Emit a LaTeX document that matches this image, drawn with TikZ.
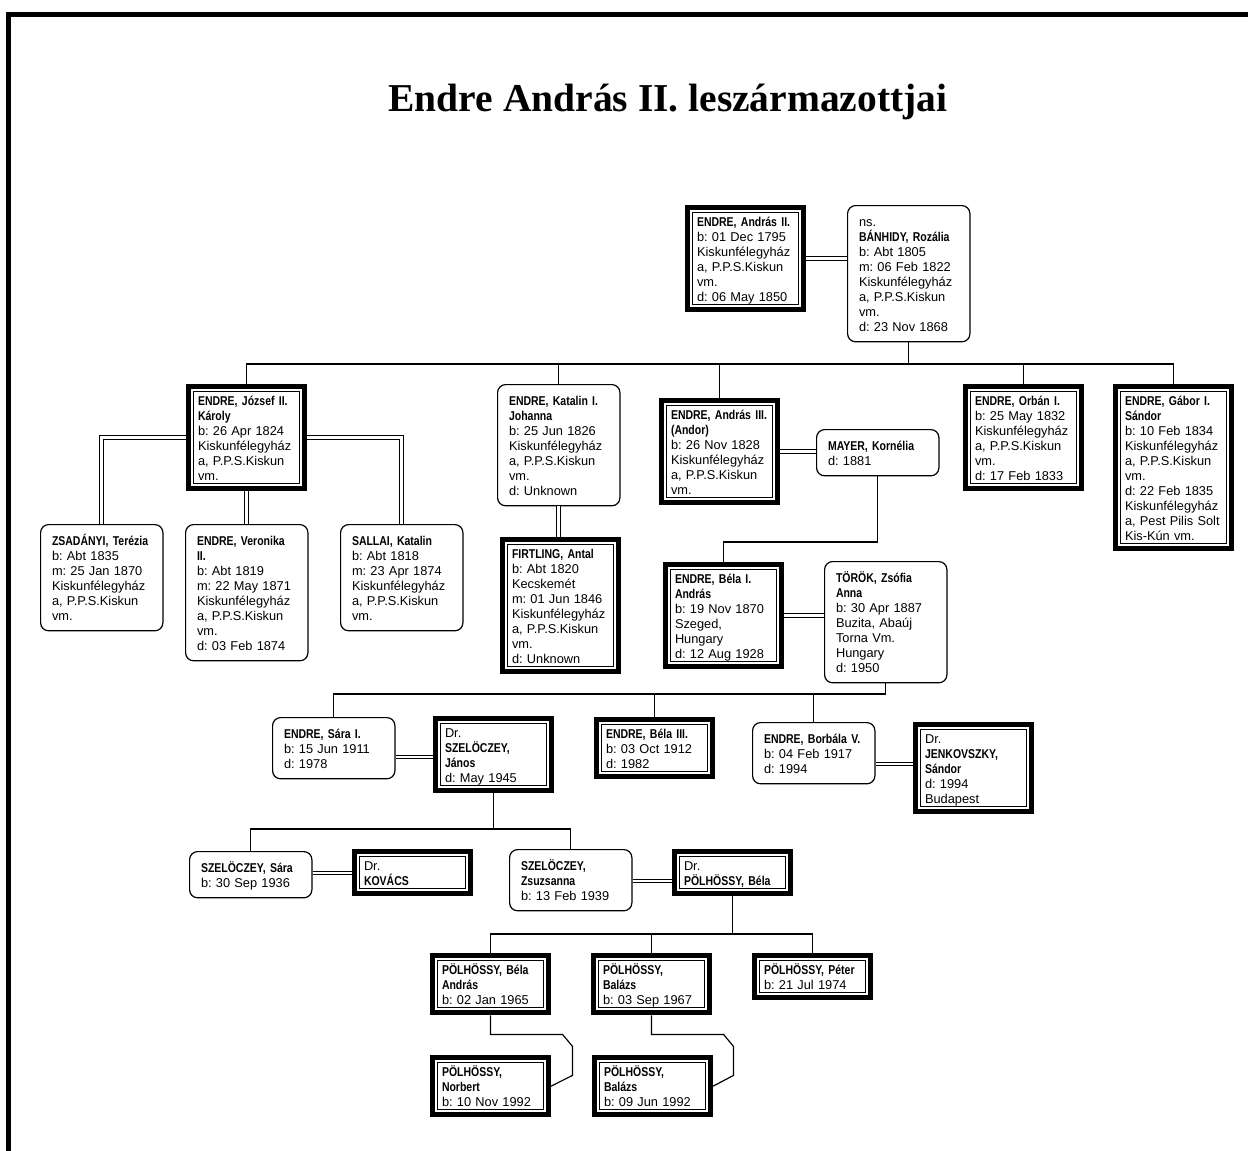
\documentclass[tikz,border=0pt]{standalone}
\usepackage{fontspec}
\setmainfont{Liberation Sans}
\newfontfamily\namefont[FakeStretch=0.82]{Liberation Sans}
\newfontfamily\titlefont{Liberation Serif}
\frenchspacing

\newcommand\nm[1]{{\namefont\bfseries #1}}

\tikzset{
  person/.style={anchor=north west, fill=white, align=left,
    font=\fontsize{12.8}{15}\selectfont,
    execute at begin node={\rule{0pt}{13.8pt}},
    execute at end node={\rule[-2.8pt]{0pt}{2.8pt}}},
  spouse/.style={person, draw, rounded corners=8pt, line width=1.2pt,
    outer sep=0.6pt, inner xsep=11.4pt, inner ysep=7.3pt, text width=99.5pt},
  blood/.style={person, draw, line width=5pt, outer sep=2.5pt,
    inner xsep=9.5pt, inner ysep=5.4pt, text width=97pt},
  inner/.style={draw, line width=1.2pt},
  line/.style={line width=1.2pt},
  marriage/.style={double, double distance=2.6pt, line width=1.1pt}
}

\begin{document}
\begin{tikzpicture}[x=1pt,y=-1pt]
\useasboundingbox (0,0) rectangle (1248,1151);
\draw[line width=5pt] (8.5,1151) -- (8.5,14.5) -- (1248,14.5);

\node[anchor=base] (title) at (668,111) {\titlefont\bfseries\fontsize{39.5}{44}\selectfont Endre András II. leszármazottjai};

% first couple
\node[blood] (a2) at (685,205) {\nm{ENDRE, András II.}\\b: 01 Dec 1795\\Kiskunfélegyház\\a, P.P.S.Kiskun\\vm.\\d: 06 May 1850};
\node[spouse] (banhidy) at (847,205) {ns.\\\nm{BÁNHIDY, Rozália}\\b: Abt 1805\\m: 06 Feb 1822\\Kiskunfélegyház\\a, P.P.S.Kiskun\\vm.\\d: 23 Nov 1868};

% their children
\node[blood] (jozsef) at (186,384) {\nm{ENDRE, József II.}\\\nm{Károly}\\b: 26 Apr 1824\\Kiskunfélegyház\\a, P.P.S.Kiskun\\vm.};
\node[spouse] (katalin) at (497,384) {\nm{ENDRE, Katalin I.}\\\nm{Johanna}\\b: 25 Jun 1826\\Kiskunfélegyház\\a, P.P.S.Kiskun\\vm.\\d: Unknown};
\node[blood] (andras3) at (659,398) {\nm{ENDRE, András III.}\\\nm{(Andor)}\\b: 26 Nov 1828\\Kiskunfélegyház\\a, P.P.S.Kiskun\\vm.};
\node[spouse] (mayer) at (816,429) {\nm{MAYER, Kornélia}\\d: 1881};
\node[blood] (orban) at (963,384) {\nm{ENDRE, Orbán I.}\\b: 25 May 1832\\Kiskunfélegyház\\a, P.P.S.Kiskun\\vm.\\d: 17 Feb 1833};
\node[blood] (gabor) at (1113,384) {\nm{ENDRE, Gábor I.}\\\nm{Sándor}\\b: 10 Feb 1834\\Kiskunfélegyház\\a, P.P.S.Kiskun\\vm.\\d: 22 Feb 1835\\Kiskunfélegyház\\a, Pest Pilis Solt\\Kis-Kún vm.};

\node[spouse] (zsadanyi) at (40,524) {\nm{ZSADÁNYI, Terézia}\\b: Abt 1835\\m: 25 Jan 1870\\Kiskunfélegyház\\a, P.P.S.Kiskun\\vm.};
\node[spouse] (veronika) at (185,524) {\nm{ENDRE, Veronika}\\\nm{II.}\\b: Abt 1819\\m: 22 May 1871\\Kiskunfélegyház\\a, P.P.S.Kiskun\\vm.\\d: 03 Feb 1874};
\node[spouse] (sallai) at (340,524) {\nm{SALLAI, Katalin}\\b: Abt 1818\\m: 23 Apr 1874\\Kiskunfélegyház\\a, P.P.S.Kiskun\\vm.};
\node[blood] (firtling) at (500,537) {\nm{FIRTLING, Antal}\\b: Abt 1820\\Kecskemét\\m: 01 Jun 1846\\Kiskunfélegyház\\a, P.P.S.Kiskun\\vm.\\d: Unknown};

\node[blood] (bela1) at (663,562) {\nm{ENDRE, Béla I.}\\\nm{András}\\b: 19 Nov 1870\\Szeged,\\Hungary\\d: 12 Aug 1928};
\node[spouse] (torok) at (824,561) {\nm{TÖRÖK, Zsófia}\\\nm{Anna}\\b: 30 Apr 1887\\Buzita, Abaúj\\Torna Vm.\\Hungary\\d: 1950};

\node[spouse] (sara1) at (272,717) {\nm{ENDRE, Sára I.}\\b: 15 Jun 1911\\d: 1978};
\node[blood] (szelJ) at (433,716) {Dr.\\\nm{SZELÖCZEY,}\\\nm{János}\\d: May 1945};
\node[blood] (bela3) at (594,717) {\nm{ENDRE, Béla III.}\\b: 03 Oct 1912\\d: 1982};
\node[spouse] (borbala) at (752,722) {\nm{ENDRE, Borbála V.}\\b: 04 Feb 1917\\d: 1994};
\node[blood] (jenk) at (913,722) {Dr.\\\nm{JENKOVSZKY,}\\\nm{Sándor}\\d: 1994\\Budapest};

\node[spouse] (szSara) at (189,851) {\nm{SZELÖCZEY, Sára}\\b: 30 Sep 1936};
\node[blood] (kovacs) at (352,849) {Dr.\\\nm{KOVÁCS}};
\node[spouse] (zsuzsa) at (509,849) {\nm{SZELÖCZEY,}\\\nm{Zsuzsanna}\\b: 13 Feb 1939};
\node[blood] (polhB) at (672,849) {Dr.\\\nm{PÖLHÖSSY, Béla}};

\node[blood] (belaA) at (430,953) {\nm{PÖLHÖSSY, Béla}\\\nm{András}\\b: 02 Jan 1965};
\node[blood] (balazs1) at (591,953) {\nm{PÖLHÖSSY,}\\\nm{Balázs}\\b: 03 Sep 1967};
\node[blood] (peter) at (752,953) {\nm{PÖLHÖSSY, Péter}\\b: 21 Jul 1974};
\node[blood] (norbert) at (430,1055) {\nm{PÖLHÖSSY,}\\\nm{Norbert}\\b: 10 Nov 1992};
\node[blood] (balazs2) at (592,1055) {\nm{PÖLHÖSSY,}\\\nm{Balázs}\\b: 09 Jun 1992};

% thin inner frame of the blood-line boxes
\foreach \n in {a2,jozsef,andras3,orban,gabor,firtling,bela1,szelJ,bela3,jenk,kovacs,polhB,belaA,balazs1,peter,norbert,balazs2}
  \draw[inner] ([shift={(7.6pt,-7.6pt)}]\n.north west) rectangle ([shift={(-7.6pt,7.6pt)}]\n.south east);

% descent lines
\coordinate (g1) at (0,364);
\foreach \c in {jozsef,katalin,andras3,orban,gabor}
  \draw[line] (banhidy.south) |- (\c.north |- g1) -- (\c.north);
\coordinate (g2) at (0,542);
\draw[line] (mayer.south) |- (bela1.north |- g2) -- (bela1.north);
\coordinate (g3) at (0,694);
\foreach \c in {sara1,bela3,borbala}
  \draw[line] (torok.south) |- (\c.north |- g3) -- (\c.north);
\coordinate (g4) at (0,829);
\foreach \c in {szSara,zsuzsa}
  \draw[line] (szelJ.south) |- (\c.north |- g4) -- (\c.north);
\coordinate (g5) at (0,934);
\foreach \c in {belaA,balazs1,peter}
  \draw[line] (polhB.south) |- (\c.north |- g5) -- (\c.north);
\draw[line] (belaA.south) -- ++(0,19) -- ++(72,0) -- ++(10,12) -- ++(0,29) -- (norbert.east);
\draw[line] (balazs1.south) -- ++(0,19) -- ++(72,0) -- ++(10,12) -- ++(0,29) -- (balazs2.east);

% marriages
\draw[marriage] (a2.east) -- (a2.east -| banhidy.west);
\draw[marriage] (jozsef.west) -| (zsadanyi.north);
\draw[marriage] (jozsef.east) -| (sallai.north);
\draw[marriage] (jozsef.south) -- (jozsef.south |- veronika.north);
\draw[marriage] (katalin.south) -- (katalin.south |- firtling.north);
\draw[marriage] (andras3.east) -- (andras3.east -| mayer.west);
\draw[marriage] (bela1.east) -- (bela1.east -| torok.west);
\draw[marriage] (sara1.east |- 0,757) -- (szelJ.west |- 0,757);
\draw[marriage] (borbala.east |- 0,764) -- (jenk.west |- 0,764);
\draw[marriage] (szSara.east |- 0,873) -- (kovacs.west |- 0,873);
\draw[marriage] (zsuzsa.east |- 0,881) -- (polhB.west |- 0,881);
\end{tikzpicture}
\end{document}
